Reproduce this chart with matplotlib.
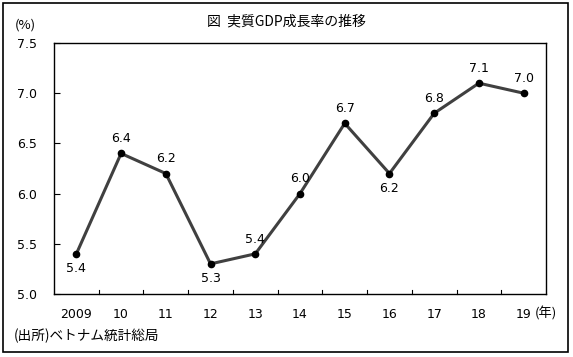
import matplotlib
matplotlib.use("Agg")
import matplotlib.pyplot as plt
from matplotlib.patches import Rectangle

plt.rcParams['font.family'] = ['Noto Sans CJK JP', 'DejaVu Sans']
NUM_FONT = ['DejaVu Sans']

years = ["2009", "10", "11", "12", "13", "14", "15", "16", "17", "18", "19"]
growth = [5.4, 6.4, 6.2, 5.3, 5.4, 6.0, 6.7, 6.2, 6.8, 7.1, 7.0]
label_pos = ["below", "above", "above", "below", "above", "above", "above", "below", "above", "above", "above"]
yticks = [5.0, 5.5, 6.0, 6.5, 7.0, 7.5]

W, H = 573, 357
fig = plt.figure(figsize=(W / 100, H / 100), dpi=100)
fig.patch.set_facecolor("white")

# outer frame
fig.add_artist(Rectangle((3 / W, 1 - 352 / H), 565 / W, 349 / H, transform=fig.transFigure,
                         fill=False, edgecolor="black", linewidth=1.2))

left, right, top, bottom = 54, 546, 43, 294
ax = fig.add_axes([left / W, 1 - bottom / H, (right - left) / W, (bottom - top) / H])

x = list(range(len(years)))
ax.plot(x, growth, color="#404040", linewidth=2.2, zorder=2)
ax.plot(x, growth, linestyle="none", marker="o", markersize=4.5, color="black", zorder=3)

for xi, v, pos in zip(x, growth, label_pos):
    if pos == "above":
        ax.annotate(f"{v:.1f}", (xi, v), xytext=(0, 6), textcoords="offset points",
                    ha="center", va="bottom", fontsize=9, family=NUM_FONT)
    else:
        ax.annotate(f"{v:.1f}", (xi, v), xytext=(0, -6), textcoords="offset points",
                    ha="center", va="top", fontsize=9, family=NUM_FONT)

ax.set_xlim(-0.5, len(years) - 0.5)
ax.set_ylim(5.0, 7.5)
ax.set_yticks(yticks)
ax.set_yticklabels([f"{t:.1f}" for t in yticks], fontsize=9, family=NUM_FONT)
ax.set_xticks(x)
ax.set_xticklabels(years, fontsize=9, family=NUM_FONT)
ax.tick_params(axis="x", length=0, pad=10)
ax.tick_params(axis="y", direction="in", length=4, pad=12, width=0.8)

# category separator ticks on x axis (inward)
for b in range(1, len(years)):
    ax.plot([b - 0.5, b - 0.5], [5.0, 5.0 + 0.04], color="black", linewidth=0.8,
            clip_on=False, zorder=1)

for s in ax.spines.values():
    s.set_linewidth(1.0)
    s.set_color("black")

fig.text(286 / W, 1 - 21 / H, "図  実質GDP成長率の推移", ha="center", va="center", fontsize=10)
fig.text(15 / W, 1 - 25 / H, "(%)", ha="left", va="center", fontsize=9.5)
fig.text(535 / W, 1 - 313 / H, "(年)", ha="left", va="center", fontsize=9.5)
fig.text(14 / W, 1 - 336 / H, "(出所)ベトナム統計総局", ha="left", va="center", fontsize=9.8)

fig.savefig("out.png", dpi=100, facecolor="white")
